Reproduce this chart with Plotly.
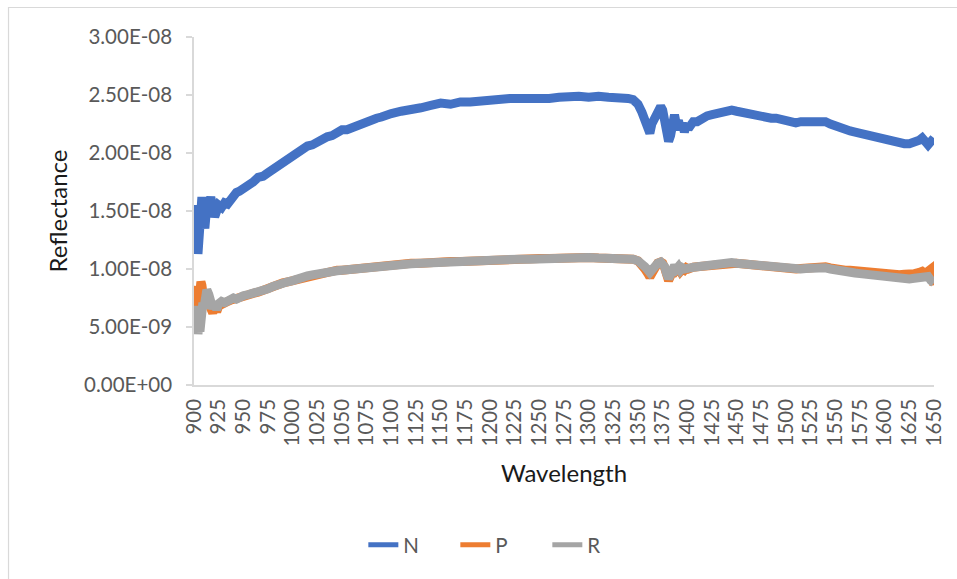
import plotly.graph_objects as go

# Wavelength grid (nm)
wavelength = [
    900, 901, 902, 903, 904, 905, 906, 907, 908, 909, 910, 911, 912, 913, 915, 917, 919, 921, 923, 925,
    928, 931, 934, 937, 940, 943, 946, 950, 955, 960, 965, 970, 975, 980, 985, 990, 995, 1000, 1005, 1010,
    1015, 1020, 1025, 1030, 1035, 1040, 1045, 1050, 1055, 1060, 1065, 1070, 1075, 1080, 1085, 1090, 1095, 1100,
    1110, 1120, 1130, 1140, 1150, 1160, 1170, 1180, 1190, 1200, 1210, 1220, 1230, 1240, 1250, 1260, 1270, 1280,
    1290, 1300, 1310, 1320, 1330, 1340, 1345, 1350, 1354, 1357, 1360, 1362, 1364, 1367, 1370, 1373, 1375, 1377,
    1379, 1381, 1383, 1385, 1387, 1389, 1391, 1393, 1395, 1397, 1399, 1401, 1403, 1406, 1410, 1415, 1420, 1425,
    1430, 1435, 1440, 1445, 1450, 1455, 1460, 1465, 1470, 1475, 1480, 1485, 1490, 1495, 1500, 1505, 1510, 1515,
    1520, 1525, 1530, 1535, 1540, 1545, 1550, 1555, 1560, 1565, 1570, 1575, 1580, 1585, 1590, 1595, 1600, 1605,
    1610, 1615, 1620, 1625, 1630, 1635, 1638, 1641, 1644, 1647, 1650,
]

# Reflectance of sample N (x 1e-8)
refl_n = [
    1.30, 1.45, 1.25, 1.55, 1.13, 1.40, 1.58, 1.45, 1.62, 1.50, 1.38, 1.35, 1.45, 1.58, 1.55, 1.62, 1.52, 1.45, 1.50, 1.55,
    1.53, 1.57, 1.56, 1.60, 1.62, 1.66, 1.67, 1.69, 1.72, 1.75, 1.79, 1.80, 1.83, 1.86, 1.90, 1.92, 1.96, 1.98, 2.00, 2.03,
    2.06, 2.07, 2.10, 2.12, 2.14, 2.15, 2.18, 2.20, 2.20, 2.22, 2.24, 2.25, 2.27, 2.29, 2.30, 2.31, 2.33, 2.34,
    2.36, 2.37, 2.39, 2.41, 2.43, 2.42, 2.44, 2.44, 2.45, 2.46, 2.46, 2.47, 2.47, 2.47, 2.46, 2.47, 2.48, 2.49,
    2.49, 2.48, 2.49, 2.48, 2.48, 2.47, 2.46, 2.42, 2.35, 2.28, 2.22, 2.17, 2.25, 2.31, 2.36, 2.40, 2.37, 2.30,
    2.20, 2.10, 2.15, 2.30, 2.33, 2.24, 2.28, 2.20, 2.26, 2.18, 2.25, 2.21, 2.24, 2.27, 2.27, 2.30, 2.32, 2.33,
    2.34, 2.35, 2.36, 2.37, 2.36, 2.35, 2.34, 2.33, 2.32, 2.31, 2.31, 2.30, 2.30, 2.29, 2.29, 2.27, 2.26, 2.27,
    2.27, 2.28, 2.28, 2.28, 2.27, 2.25, 2.23, 2.21, 2.20, 2.19, 2.18, 2.17, 2.16, 2.15, 2.14, 2.13, 2.11, 2.10,
    2.09, 2.09, 2.08, 2.08, 2.09, 2.11, 2.13, 2.09, 2.07, 2.10, 2.08,
]

# Reflectance of sample P (x 1e-9)
refl_p = [
    6.8, 8.0, 7.0, 8.5, 6.5, 8.7, 7.5, 8.9, 8.6, 7.8, 7.2, 6.6, 7.0, 7.4, 6.8, 6.4, 6.2, 6.8, 6.3, 6.8,
    7.0, 7.1, 7.2, 7.3, 7.4, 7.4, 7.5, 7.6, 7.8, 7.9, 8.0, 8.2, 8.3, 8.5, 8.7, 8.8, 8.9, 9.0, 9.2, 9.3,
    9.4, 9.5, 9.6, 9.7, 9.7, 9.8, 9.9, 9.9, 9.95, 10.0, 10.05, 10.1, 10.15, 10.2, 10.25, 10.3, 10.3, 10.35,
    10.45, 10.5, 10.5, 10.6, 10.6, 10.65, 10.65, 10.7, 10.75, 10.8, 10.85, 10.9, 10.85, 10.9, 10.9, 10.9, 10.95, 11.0,
    11.0, 11.0, 10.95, 10.95, 10.9, 10.9, 10.85, 10.7, 10.4, 10.0, 9.6, 9.3, 9.6, 10.2, 10.5, 10.6, 10.5, 10.1,
    9.4, 9.0, 9.4, 10.1, 10.2, 9.9, 10.1, 9.8, 10.0, 9.9, 10.1, 10.0, 10.1, 10.15, 10.2, 10.25, 10.3, 10.35,
    10.4, 10.45, 10.5, 10.55, 10.5, 10.45, 10.4, 10.35, 10.3, 10.3, 10.25, 10.2, 10.2, 10.15, 10.1, 10.05, 10.0, 10.05,
    10.1, 10.15, 10.15, 10.2, 10.2, 10.1, 10.0, 9.95, 9.9, 9.9, 9.85, 9.8, 9.8, 9.75, 9.7, 9.7, 9.6, 9.55,
    9.5, 9.5, 9.55, 9.5, 9.6, 9.7, 9.8, 9.6, 9.8, 10.0, 8.6,
]

# Reflectance of sample R (x 1e-9)
refl_r = [
    6.5, 5.5, 6.8, 5.0, 4.4, 5.2, 4.6, 6.0, 7.0, 7.1, 6.6, 7.4, 7.9, 8.2, 7.8, 6.8, 6.6, 7.0, 6.5, 7.0,
    7.2, 7.1, 7.3, 7.4, 7.5, 7.4, 7.6, 7.7, 7.8, 7.9, 8.0, 8.2, 8.3, 8.5, 8.7, 8.8, 8.9, 9.0, 9.2, 9.3,
    9.4, 9.5, 9.6, 9.6, 9.7, 9.8, 9.85, 9.9, 9.95, 10.0, 10.05, 10.1, 10.15, 10.2, 10.25, 10.3, 10.3, 10.35,
    10.4, 10.45, 10.5, 10.55, 10.6, 10.6, 10.65, 10.7, 10.7, 10.75, 10.8, 10.85, 10.85, 10.85, 10.9, 10.9, 10.95, 10.95,
    11.0, 11.0, 10.95, 10.95, 10.9, 10.9, 10.85, 10.7, 10.5, 10.2, 9.9, 9.7, 9.9, 10.3, 10.5, 10.6, 10.5, 10.2,
    9.6, 9.2, 9.5, 10.2, 10.3, 10.0, 10.2, 9.9, 10.1, 10.0, 10.1, 10.0, 10.1, 10.15, 10.2, 10.25, 10.3, 10.35,
    10.4, 10.45, 10.5, 10.55, 10.5, 10.45, 10.4, 10.35, 10.3, 10.3, 10.25, 10.2, 10.2, 10.15, 10.1, 10.0, 9.95, 10.0,
    10.05, 10.1, 10.1, 10.15, 10.1, 10.0, 9.9, 9.8, 9.75, 9.7, 9.65, 9.6, 9.55, 9.5, 9.45, 9.4, 9.3, 9.25,
    9.2, 9.2, 9.2, 9.15, 9.2, 9.25, 9.3, 9.2, 9.35, 9.0, 8.8,
]

y_tick_values = [0, 5e-9, 1e-8, 1.5e-8, 2e-8, 2.5e-8, 3e-8]
y_tick_labels = ["0.00E+00", "5.00E-09", "1.00E-08", "1.50E-08", "2.00E-08", "2.50E-08", "3.00E-08"]
x_label_values = list(range(900, 1651, 25))
x_tickmark_values = list(range(900, 1651, 50))

series = [
    ("N", [v * 1e-8 for v in refl_n], "#4472C4"),
    ("P", [v * 1e-9 for v in refl_p], "#ED7D31"),
    ("R", [v * 1e-9 for v in refl_r], "#A5A5A5"),
]

FONT = "Lato, 'Open Sans', sans-serif"
GRID = "#D9D9D9"
TEXT = "#595959"
TICK_SIZE = 20.5
TITLE_SIZE = 24

fig = go.Figure()
for name, values, color in series:
    # thick spectral band
    fig.add_trace(go.Scatter(
        x=wavelength, y=values, mode="lines", name=name, showlegend=False,
        line=dict(color=color, width=9, shape="linear"), legendgroup=name,
    ))
    # legend key with the nominal line weight
    fig.add_trace(go.Scatter(
        x=[None], y=[None], mode="lines", name=name, legendgroup=name,
        line=dict(color=color, width=5),
    ))

fig.update_layout(
    width=957, height=579,
    margin=dict(l=194, r=19, t=37, b=194),
    paper_bgcolor="white", plot_bgcolor="white",
    font=dict(family=FONT, color=TEXT, size=TICK_SIZE),
    xaxis=dict(
        range=[900, 1650], tickmode="array", tickvals=x_label_values,
        ticktext=[str(v) for v in x_label_values], tickangle=-90, ticks="",
        ticklabelstandoff=4,
        showgrid=False, zeroline=False, showline=True, linecolor=GRID, linewidth=1.5,
        tickfont=dict(size=TICK_SIZE, color=TEXT),
        title=dict(text="Wavelength", font=dict(size=TITLE_SIZE, color="#1A1A1A"), standoff=20),
    ),
    xaxis2=dict(
        range=[900, 1650], overlaying="x", anchor="y", side="bottom",
        tickmode="array", tickvals=x_tickmark_values, ticks="outside", ticklen=6,
        tickcolor=GRID, tickwidth=1.5, showticklabels=False, showgrid=False,
        zeroline=False, showline=False,
    ),
    yaxis=dict(
        range=[0, 3e-8], tickmode="array", tickvals=y_tick_values, ticktext=y_tick_labels,
        ticks="outside", ticklen=6, tickcolor=GRID, tickwidth=1.5, ticklabelstandoff=10,
        showgrid=False, zeroline=False, showline=True, linecolor=GRID, linewidth=1.5,
        tickfont=dict(size=TICK_SIZE, color=TEXT),
        title=dict(text="Reflectance", font=dict(size=TITLE_SIZE, color="#1A1A1A"), standoff=10),
    ),
    legend=dict(
        orientation="h", x=(503 - 194) / 744, xanchor="center",
        y=(385 - 545) / 348, yanchor="middle", entrywidth=47, entrywidthmode="pixels",
        font=dict(size=TICK_SIZE, color=TEXT), bgcolor="rgba(0,0,0,0)",
    ),
    shapes=[dict(
        type="rect", xref="paper", yref="paper",
        x0=(7.5 - 194) / 744, x1=(965 - 194) / 744,
        y0=(385 - 590) / 348, y1=(385 - 7.5) / 348,
        line=dict(color=GRID, width=1.2), fillcolor="rgba(0,0,0,0)", layer="below",
    )],
)

fig.write_html("out.html")
